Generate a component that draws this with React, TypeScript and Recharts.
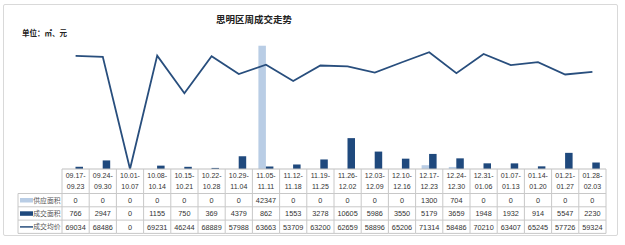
import React from 'react';
import { ComposedChart, Bar, Line, XAxis, YAxis } from 'recharts';

// week ranges shown in the table header
const weeks = [
  '09.17-09.23', '09.24-09.30', '10.01-10.07', '10.08-10.14', '10.15-10.21',
  '10.22-10.28', '10.29-11.04', '11.05-11.11', '11.12-11.18', '11.19-11.25',
  '11.26-12.02', '12.03-12.09', '12.10-12.16', '12.17-12.23', '12.24-12.30',
  '12.31-01.06', '01.07-01.13', '01.14-01.20', '01.21-01.27', '01.28-02.03',
];
const supplyArea = [0, 0, 0, 0, 0, 0, 0, 42347, 0, 0, 0, 0, 0, 1300, 704, 0, 0, 0, 0, 0];
const dealArea = [766, 2947, 0, 1155, 750, 369, 4379, 862, 1553, 3278, 10605, 5986, 3550, 5179, 3659, 1948, 1932, 914, 5547, 2230];
const avgPrice = [69034, 68486, 0, 69231, 46244, 68889, 57988, 63663, 53709, 63200, 62659, 58896, 65206, 71314, 58486, 70210, 63407, 65245, 57726, 59324];

const rowNames = ['供应面积', '成交面积', '成交均价'];

const data = weeks.map((w, i) => ({
  week: w,
  supply: supplyArea[i],
  deal: dealArea[i],
  price: avgPrice[i],
}));

const LIGHT = '#b9cde5';
const DARK = '#1f497d';
const LINE = '#284e7d';
const GRID = '#c8c8c8';
const FONT = '"Liberation Sans", Arial, "Noto Sans CJK SC", sans-serif';
const CJK = '"Noto Sans CJK SC", sans-serif';

const W = 625;
const H = 245;
const PLOT_LEFT = 62;
const PLOT_RIGHT = 606;
const COL_W = (PLOT_RIGHT - PLOT_LEFT) / weeks.length;
const HEAD_H = 24.5;
const ROW_H = 13.3;
const LABEL_LEFT = 18;

const TableTick = (props: any) => {
  const { x, y, payload } = props;
  const i = payload.index;
  const left = x - COL_W / 2;
  const right = x + COL_W / 2;
  const [a, b] = weeks[i].split('-');
  const values = [supplyArea[i], dealArea[i], avgPrice[i]];
  const bottom = y + HEAD_H + ROW_H * 3;
  return (
    <g>
      <line x1={left} x2={left} y1={y} y2={bottom} stroke={GRID} strokeWidth={1} />
      {i === weeks.length - 1 && (
        <line x1={right} x2={right} y1={y} y2={bottom} stroke={GRID} strokeWidth={1} />
      )}
      {[0, 1, 2, 3].map((r) => (
        <line key={r} x1={left} x2={right} y1={y + HEAD_H + ROW_H * r} y2={y + HEAD_H + ROW_H * r} stroke={GRID} strokeWidth={1} />
      ))}
      <text x={x} y={y + 9} textAnchor="middle" fontSize={7} fill="#333" fontFamily={FONT}>{a}-</text>
      <text x={x} y={y + 20} textAnchor="middle" fontSize={7} fill="#333" fontFamily={FONT}>{b}</text>
      {values.map((v, r) => (
        <text key={r} x={x} y={y + HEAD_H + ROW_H * r + 9.5} textAnchor="middle" fontSize={7.3} fill="#333" fontFamily={FONT}>
          {v}
        </text>
      ))}
      {i === 0 && (
        <g>
          <line x1={LABEL_LEFT} x2={left} y1={y + HEAD_H} y2={y + HEAD_H} stroke={GRID} />
          {[1, 2, 3].map((r) => (
            <line key={r} x1={LABEL_LEFT} x2={left} y1={y + HEAD_H + ROW_H * r} y2={y + HEAD_H + ROW_H * r} stroke={GRID} />
          ))}
          <line x1={LABEL_LEFT} x2={LABEL_LEFT} y1={y + HEAD_H} y2={bottom} stroke={GRID} />
          <rect x={LABEL_LEFT + 2} y={y + HEAD_H + 4.5} width={13} height={4.5} fill={LIGHT} />
          <rect x={LABEL_LEFT + 2} y={y + HEAD_H + ROW_H + 4.5} width={13} height={4.5} fill={DARK} />
          <line x1={LABEL_LEFT + 2} x2={LABEL_LEFT + 15} y1={y + HEAD_H + ROW_H * 2 + 6.8} y2={y + HEAD_H + ROW_H * 2 + 6.8} stroke={LINE} strokeWidth={1.5} />
          {rowNames.map((n, r) => (
            <text key={n} x={left - 1.5} y={y + HEAD_H + ROW_H * r + 9.3} textAnchor="end" fontSize={6.8} fill="#555" fontFamily={CJK}>
              {n}
            </text>
          ))}
        </g>
      )}
    </g>
  );
};

export default function App() {
  return (
    <div style={{ position: 'relative', width: W, height: H, background: '#fff', fontFamily: CJK }}>
      <style>{'body{margin:0}'}</style>
      <div
        style={{
          position: 'absolute', left: 3, top: 4, width: 613, height: 230,
          border: '1px solid #d9d9d9', borderRadius: 2,
        }}
      />
      <div style={{ position: 'absolute', left: 0, width: 508, top: 12, textAlign: 'center', fontSize: 9.5, fontWeight: 'bold', color: '#222' }}>
        思明区周成交走势
      </div>
      <div style={{ position: 'absolute', left: 22, top: 27, fontSize: 7.5, fontWeight: 'bold', color: '#222' }}>
        单位：㎡、元
      </div>
      <div style={{ position: 'absolute', left: 0, top: 0 }}>
        <ComposedChart
          width={W}
          height={H}
          data={data}
          margin={{ top: 38, left: PLOT_LEFT, right: W - PLOT_RIGHT, bottom: H - 169 - 64 }}
          barGap={0}
        >
          <XAxis
            dataKey="week"
            interval={0}
            height={64}
            tickLine={false}
            tickSize={0}
            tickMargin={0}
            axisLine={{ stroke: '#bfbfbf' }}
            tick={<TableTick />}
          />
          <YAxis yAxisId="area" hide domain={[0, 45000]} />
          <YAxis yAxisId="price" hide orientation="right" domain={[0, 80000]} />
          <Bar yAxisId="area" dataKey="supply" fill={LIGHT} barSize={7.5} isAnimationActive={false} />
          <Bar yAxisId="area" dataKey="deal" fill={DARK} barSize={7.5} isAnimationActive={false} />
          <Line
            yAxisId="price"
            type="linear"
            dataKey="price"
            stroke={LINE}
            strokeWidth={1.8}
            dot={false}
            isAnimationActive={false}
          />
        </ComposedChart>
      </div>
    </div>
  );
}
